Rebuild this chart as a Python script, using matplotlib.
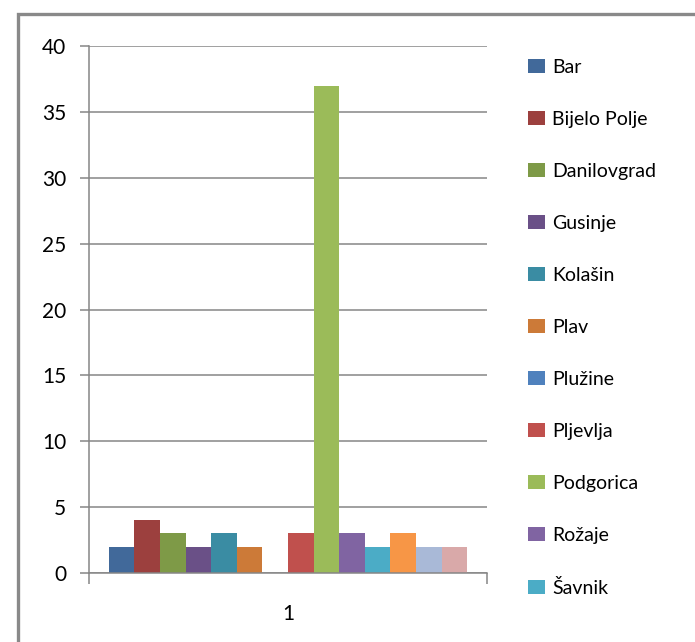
import matplotlib.pyplot as plt
from matplotlib.patches import Rectangle, Patch

plt.rcParams['font.family'] = ['Lato', 'DejaVu Sans']

# One category, fourteen municipalities (the legend only shows the first eleven).
categories = ['1']
towns = ['Bar', 'Bijelo Polje', 'Danilovgrad', 'Gusinje', 'Kolašin', 'Plav',
         'Plužine', 'Pljevlja', 'Podgorica', 'Rožaje', 'Šavnik',
         'Tivat', 'Ulcinj', 'Žabljak']
counts = [2, 4, 3, 2, 3, 2, 0, 3, 37, 3, 2, 3, 2, 2]
colors = ['#41699A', '#9C403E', '#7E9A47', '#6A5087', '#3A8CA3', '#CC7A38',
          '#4F81BD', '#C0504D', '#9BBB59', '#8064A2', '#4BACC6', '#F79646',
          '#A9B9D7', '#D9A9A9']
y_ticks = [0, 5, 10, 15, 20, 25, 30, 35, 40]
n_legend = 11

W, H = 695, 642
fig = plt.figure(figsize=(W / 100, H / 100), dpi=100)

# Outer chart-area frame (only the left and top edges are visible).
fig.patches.append(Rectangle((18 / W, -0.1), 1.2, 1.1 - 14 / H,
                             transform=fig.transFigure, fill=False,
                             edgecolor='#898989', linewidth=2.4))

ax = fig.add_axes([89 / W, 69 / H, 398 / W, 527 / H])

n = len(towns)
bw = 0.9 / n
for i, (town, c, col) in enumerate(zip(towns, counts, colors)):
    x = -0.45 + bw * (i + 0.5)
    ax.bar([x], [c], width=bw, color=col, label=town, linewidth=0)

ax.set_xlim(-0.5, 0.5)
ax.set_ylim(0, 40)
ax.set_yticks(y_ticks)
ax.yaxis.grid(True, color='#868686', linewidth=1.1)
ax.set_axisbelow(True)

ax.set_xticks([0])
ax.set_xticklabels(categories)
ax.set_xticks([-0.5, 0.5], minor=True)
ax.tick_params(axis='x', which='major', length=0, pad=22, labelsize=15)
ax.tick_params(axis='x', which='minor', length=8, color='#868686', width=1.1)
ax.tick_params(axis='y', length=6.5, color='#868686', width=1.1,
               labelsize=15, pad=10)

for side in ('top', 'right'):
    ax.spines[side].set_visible(False)
for side in ('left', 'bottom'):
    ax.spines[side].set_color('#868686')
    ax.spines[side].set_linewidth(1.1)

handles = [Patch(facecolor=col, edgecolor='none') for col in colors[:n_legend]]
fig.legend(handles, towns[:n_legend], loc='upper left',
           bbox_to_anchor=(528 / W, 1 - 59 / H), frameon=False,
           fontsize=14, labelspacing=1.8, handlelength=0.85,
           handleheight=0.7, handletextpad=0.4, borderpad=0,
           borderaxespad=0)

fig.savefig('out.png', dpi=100)
